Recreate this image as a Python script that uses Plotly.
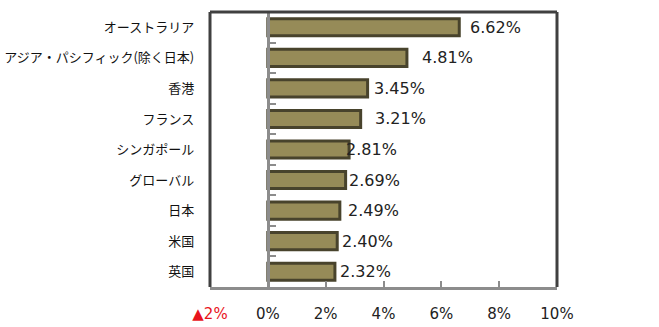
import plotly.graph_objects as go

categories = ["オーストラリア", "アジア・パシフィック(除く日本)", "香港", "フランス",
              "シンガポール", "グローバル", "日本", "米国", "英国"]
values = [6.62, 4.81, 3.45, 3.21, 2.81, 2.69, 2.49, 2.40, 2.32]
labels = ["6.62%", "4.81%", "3.45%", "3.21%", "2.81%", "2.69%", "2.49%", "2.40%", "2.32%"]
x_tickvals = [-2, 0, 2, 4, 6, 8, 10]
x_ticktext = ['<span style="color:#e8141c">▲2%</span>', "0%", "2%", "4%", "6%", "8%", "10%"]

# label offsets (pixels) from bar end, as placed in the original
label_gap = [9, 13, 4, 12, -5, 1, 6, 3, 3]

fig = go.Figure()
fig.add_trace(go.Bar(
    y=categories, x=values, orientation="h",
    marker=dict(color="#968b58", line=dict(color="#48432c", width=3)),
    width=0.56,
))

annotations = [
    dict(x=v, y=c, xref="x", yref="y", text=t, showarrow=False,
         xanchor="left", yanchor="middle", xshift=g,
         font=dict(family="DejaVu Sans", size=16, color="#222222"))
    for c, v, t, g in zip(categories, values, labels, label_gap)
]

fig.update_layout(
    width=659, height=327,
    margin=dict(l=210, r=102, t=12, b=40),
    paper_bgcolor="white", plot_bgcolor="white",
    showlegend=False,
    bargap=0.44,
    annotations=annotations,
    xaxis=dict(
        range=[-2, 10], tickmode="array", tickvals=x_tickvals, ticktext=x_ticktext,
        showgrid=False, zeroline=False, automargin=False,
        showline=True, linecolor="#8c8c8c", linewidth=3,
        ticks="inside", ticklen=6, tickwidth=2, tickcolor="#8c8c8c",
        ticklabelstandoff=11,
        tickfont=dict(family="DejaVu Sans", size=15, color="#222222"),
    ),
    yaxis=dict(
        autorange="reversed", type="category", automargin=False,
        anchor="free", position=2/12, layer="above traces",
        showline=True, linecolor="#8c8c8c", linewidth=3,
        ticks="inside", tickson="boundaries", ticklen=6, tickwidth=2, tickcolor="#8c8c8c",
        ticklabelstandoff=70,
        showgrid=False, zeroline=False,
        tickfont=dict(family="Noto Sans CJK JP", size=13, color="#111111"),
    ),
    shapes=[
        dict(type="line", xref="paper", yref="paper", x0=0, x1=1, y0=1, y1=1,
             line=dict(color="#404040", width=3), layer="above"),
        dict(type="line", xref="paper", yref="paper", x0=0, x1=0, y0=0, y1=1,
             line=dict(color="#404040", width=3), layer="above"),
        dict(type="line", xref="paper", yref="paper", x0=1, x1=1, y0=0, y1=1,
             line=dict(color="#404040", width=3), layer="above"),
    ],
)

fig.write_html("out.html")
